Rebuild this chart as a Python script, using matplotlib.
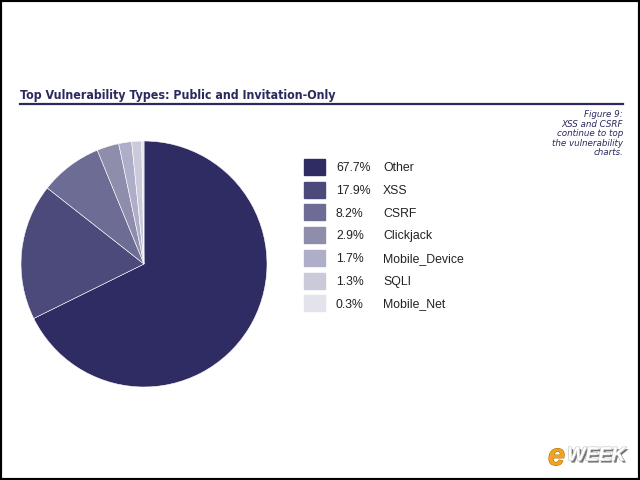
import matplotlib
matplotlib.use("Agg")
import matplotlib.pyplot as plt
from matplotlib.patches import Rectangle
from matplotlib.lines import Line2D
import matplotlib.patheffects as pe

labels = ["Other", "XSS", "CSRF", "Clickjack", "Mobile_Device", "SQLI", "Mobile_Net"]
values = [67.7, 17.9, 8.2, 2.9, 1.7, 1.3, 0.3]
colors = ["#2e2c62", "#4b4a7b", "#6d6c95", "#8e8dac", "#afaec8", "#cbcadb", "#e3e3eb"]

title = "Top Vulnerability Types: Public and Invitation-Only"
note = "Figure 9:\nXSS and CSRF\ncontinue to top\nthe vulnerability\ncharts."

W, H = 640, 480
fig = plt.figure(figsize=(6.4, 4.8), dpi=100)
fig.patch.set_facecolor("white")

def fx(px):
    return px / W

def fy(py):
    return 1 - py / H

# Pie
cx, cy, r = 144, 264, 123
ax = fig.add_axes([fx(cx - r), fy(cy + r), 2 * r / W, 2 * r / H])
ax.pie(values, colors=colors, startangle=90, counterclock=False,
       wedgeprops=dict(edgecolor="white", linewidth=0.4))
ax.set_xlim(-1, 1)
ax.set_ylim(-1, 1)
ax.set_aspect("equal")
ax.axis("off")

# Title and underline
fig.text(fx(20), fy(99), title, fontsize=8.9, fontweight="bold", color="#2b2a5e",
         va="baseline", ha="left", family="DejaVu Sans", fontstretch="condensed")
fig.add_artist(Line2D([fx(20), fx(623)], [fy(104), fy(104)], color="#2b2a5e", lw=1.6))

# Note
fig.text(fx(623), fy(110), note, fontsize=6.3, style="italic", color="#2b2a5e",
         ha="right", va="top", linespacing=1.08)

# Legend
y0, dy = 167, 22.7
for i, (lab, val, col) in enumerate(zip(labels, values, colors)):
    y = y0 + i * dy
    fig.add_artist(Rectangle((fx(304), fy(y + 8)), 21 / W, 16 / H, color=col,
                             transform=fig.transFigure))
    fig.text(fx(336), fy(y + 4.3), f"{val:.1f}%", fontsize=8.8, color="#222222",
             va="baseline", ha="left", family="Liberation Sans")
    fig.text(fx(383), fy(y + 4.3), lab, fontsize=8.8, color="#222222",
             va="baseline", ha="left", family="Liberation Sans")

# Logo
fig.text(fx(548), fy(457), "e", fontsize=22, fontweight="bold", style="italic",
         color="#f2a41c", ha="left", va="center", family="Liberation Sans",
         path_effects=[pe.withStroke(linewidth=0.8, foreground="#b07010")])
fig.text(fx(567), fy(456), "WEEK", fontsize=14, fontweight="bold", style="italic",
         color="white", ha="left", va="center", family="Liberation Sans",
         path_effects=[pe.withSimplePatchShadow(offset=(1.5, -1.5), shadow_rgbFace="#666666", alpha=0.9),
                       pe.withStroke(linewidth=0.8, foreground="#bbbbbb")])

# Frame border
fig.add_artist(Rectangle((0, 0), 1, 1, fill=False, edgecolor="black", lw=3,
                         transform=fig.transFigure))

fig.savefig("out.png", dpi=100)
